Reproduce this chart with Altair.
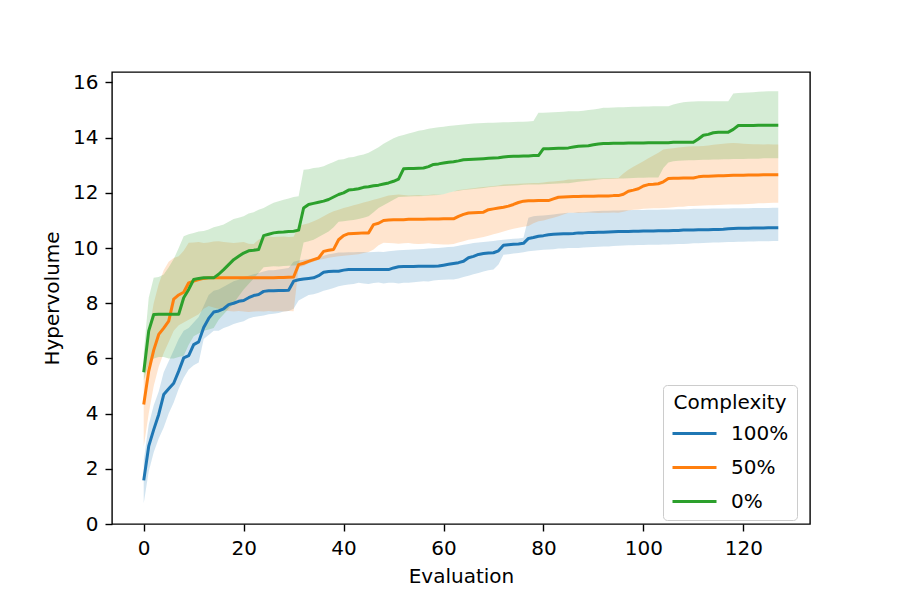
import altair as alt
import pandas as pd

evaluations = list(range(128))
groups = ["100%", "50%", "0%"]
colors = ["#1f77b4", "#ff7f0e", "#2ca02c"]

blue_mean = [
    1.58, 2.82, 3.42, 3.97, 4.69, 4.90, 5.10, 5.54, 6.02, 6.10,
    6.50, 6.60, 7.12, 7.45, 7.68, 7.72, 7.80, 7.95, 8.00, 8.07,
    8.10, 8.20, 8.28, 8.32, 8.43, 8.45, 8.45, 8.46, 8.46, 8.47,
    8.80, 8.85, 8.88, 8.90, 8.92, 9.00, 9.12, 9.15, 9.16, 9.16,
    9.20, 9.22, 9.22, 9.22, 9.22, 9.22, 9.22, 9.22, 9.22, 9.22,
    9.28, 9.32, 9.33, 9.33, 9.33, 9.34, 9.34, 9.34, 9.34, 9.35,
    9.38, 9.41, 9.44, 9.47, 9.52, 9.65, 9.70, 9.77, 9.80, 9.82,
    9.83, 9.90, 10.10, 10.12, 10.14, 10.15, 10.17, 10.35, 10.38, 10.43,
    10.45, 10.48, 10.50, 10.51, 10.52, 10.52, 10.53, 10.55, 10.55, 10.56,
    10.56, 10.57, 10.57, 10.58, 10.59, 10.60, 10.60, 10.60, 10.61, 10.61,
    10.62, 10.62, 10.62, 10.63, 10.63, 10.63, 10.64, 10.64, 10.65, 10.65,
    10.65, 10.66, 10.66, 10.66, 10.67, 10.67, 10.68, 10.70, 10.71, 10.72,
    10.72, 10.72, 10.73, 10.73, 10.73, 10.74, 10.74, 10.74]
blue_lo = [
    0.75, 1.90, 2.60, 3.10, 3.50, 4.00, 4.40, 4.90, 5.30, 5.60,
    5.75, 5.85, 6.70, 6.85, 7.00, 7.00, 7.10, 7.17, 7.25, 7.30,
    7.35, 7.45, 7.50, 7.53, 7.56, 7.60, 7.62, 7.65, 7.70, 7.72,
    7.80, 8.10, 8.20, 8.30, 8.33, 8.38, 8.45, 8.50, 8.55, 8.62,
    8.65, 8.68, 8.70, 8.74, 8.72, 8.70, 8.73, 8.75, 8.72, 8.74,
    8.74, 8.72, 8.74, 8.74, 8.76, 8.78, 8.80, 8.79, 8.82, 8.84,
    8.85, 8.86, 8.86, 8.90, 8.95, 9.00, 9.05, 9.10, 9.15, 9.20,
    9.22, 9.40, 9.76, 9.78, 9.80, 9.82, 9.85, 9.88, 9.90, 9.92,
    9.94, 9.95, 9.96, 9.98, 9.98, 10.00, 10.00, 10.00, 10.02, 10.03,
    10.04, 10.05, 10.06, 10.06, 10.07, 10.08, 10.09, 10.10, 10.10, 10.11,
    10.11, 10.12, 10.12, 10.12, 10.13, 10.13, 10.14, 10.15, 10.15, 10.16,
    10.17, 10.17, 10.18, 10.19, 10.20, 10.20, 10.21, 10.22, 10.22, 10.23,
    10.23, 10.24, 10.24, 10.25, 10.25, 10.25, 10.26, 10.26]
blue_hi = [
    2.30, 3.60, 4.30, 4.80, 5.50, 5.90, 6.30, 6.70, 7.00, 7.10,
    7.30, 7.50, 7.90, 8.30, 8.45, 8.50, 8.60, 8.70, 8.80, 8.85,
    8.95, 9.00, 9.05, 9.10, 9.15, 9.20, 9.20, 9.22, 9.25, 9.28,
    9.50, 9.55, 9.58, 9.60, 9.62, 9.65, 9.72, 9.78, 9.80, 9.84,
    9.84, 9.85, 9.85, 9.86, 9.86, 9.85, 9.86, 9.87, 9.86, 9.88,
    9.90, 9.92, 9.93, 9.94, 9.95, 9.96, 9.97, 9.98, 9.99, 10.00,
    10.02, 10.04, 10.05, 10.08, 10.12, 10.15, 10.18, 10.20, 10.22, 10.24,
    10.26, 10.28, 10.30, 10.32, 10.34, 10.35, 10.37, 11.10, 11.15, 11.17,
    11.18, 11.20, 11.22, 11.24, 11.26, 11.28, 11.28, 11.30, 11.30, 11.32,
    11.33, 11.34, 11.35, 11.35, 11.36, 11.36, 11.37, 11.37, 11.38, 11.38,
    11.38, 11.39, 11.39, 11.39, 11.40, 11.40, 11.40, 11.41, 11.41, 11.41,
    11.42, 11.42, 11.42, 11.42, 11.43, 11.43, 11.43, 11.43, 11.44, 11.44,
    11.44, 11.44, 11.45, 11.45, 11.45, 11.45, 11.46, 11.46]

orange_mean = [
    4.33, 5.54, 6.30, 6.87, 7.10, 7.35, 8.15, 8.30, 8.40, 8.74,
    8.80, 8.86, 8.90, 8.92, 8.92, 8.92, 8.92, 8.92, 8.92, 8.92,
    8.92, 8.92, 8.92, 8.92, 8.92, 8.92, 8.92, 8.93, 8.93, 8.94,
    8.95, 9.40, 9.45, 9.52, 9.58, 9.64, 9.88, 9.92, 9.95, 10.30,
    10.45, 10.52, 10.53, 10.54, 10.55, 10.55, 10.85, 10.90, 11.00, 11.02,
    11.03, 11.03, 11.03, 11.04, 11.04, 11.04, 11.04, 11.05, 11.05, 11.05,
    11.06, 11.06, 11.06, 11.15, 11.22, 11.27, 11.28, 11.29, 11.30, 11.39,
    11.42, 11.45, 11.48, 11.52, 11.58, 11.65, 11.70, 11.71, 11.71, 11.72,
    11.72, 11.72, 11.78, 11.84, 11.85, 11.86, 11.87, 11.87, 11.88, 11.88,
    11.88, 11.89, 11.89, 11.89, 11.90, 11.90, 11.95, 12.06, 12.10, 12.15,
    12.25, 12.30, 12.31, 12.33, 12.40, 12.52, 12.53, 12.53, 12.54, 12.54,
    12.54, 12.58, 12.60, 12.60, 12.61, 12.62, 12.62, 12.63, 12.64, 12.64,
    12.64, 12.65, 12.65, 12.65, 12.66, 12.66, 12.66, 12.66]
orange_lo = [
    2.80, 4.00, 5.00, 5.70, 6.20, 6.60, 7.00, 7.20, 7.30, 7.40,
    7.50, 7.60, 7.80, 7.90, 7.85, 7.80, 7.75, 7.72, 7.70, 7.72,
    7.70, 7.68, 7.70, 7.71, 7.70, 7.72, 7.70, 7.71, 7.70, 7.72,
    7.71, 9.30, 9.35, 9.45, 9.50, 9.58, 9.60, 9.65, 9.68, 9.70,
    9.72, 9.74, 9.76, 9.78, 9.82, 9.86, 9.95, 10.10, 10.19, 10.18,
    10.17, 10.16, 10.17, 10.18, 10.16, 10.15, 10.16, 10.17, 10.15, 10.14,
    10.13, 10.13, 10.15, 10.20, 10.25, 10.30, 10.33, 10.36, 10.40, 10.45,
    10.50, 10.55, 10.60, 10.65, 10.70, 10.74, 10.77, 10.80, 10.90, 10.97,
    11.00, 11.05, 11.10, 11.15, 11.22, 11.28, 11.28, 11.27, 11.28, 11.29,
    11.28, 11.27, 11.28, 11.28, 11.29, 11.28, 11.32, 11.36, 11.39, 11.40,
    11.42, 11.43, 11.44, 11.44, 11.45, 11.46, 11.48, 11.50, 11.50, 11.52,
    11.52, 11.53, 11.54, 11.55, 11.55, 11.56, 11.57, 11.58, 11.58, 11.58,
    11.59, 11.60, 11.61, 11.62, 11.62, 11.63, 11.64, 11.64]
orange_hi = [
    5.20, 7.00, 8.00, 8.70, 9.20, 9.50, 9.64, 9.70, 9.90, 10.19,
    10.20, 10.22, 10.18, 10.20, 10.24, 10.25, 10.22, 10.20, 10.18, 10.20,
    10.22, 10.16, 10.15, 10.30, 10.40, 10.42, 10.40, 10.41, 10.42, 10.40,
    10.41, 10.79, 10.85, 10.90, 10.97, 11.05, 11.15, 11.25, 11.33, 11.39,
    11.45, 11.50, 11.55, 11.60, 11.65, 11.70, 11.75, 11.80, 11.85, 11.90,
    11.92, 11.94, 11.92, 11.90, 11.91, 11.92, 11.90, 11.92, 11.94, 11.93,
    11.95, 12.00, 12.05, 12.10, 12.12, 12.15, 12.17, 12.19, 12.21, 12.23,
    12.25, 12.27, 12.30, 12.31, 12.32, 12.33, 12.34, 12.35, 12.36, 12.36,
    12.38, 12.40, 12.41, 12.43, 12.45, 12.48, 12.48, 12.50, 12.50, 12.51,
    12.52, 12.52, 12.53, 12.53, 12.54, 12.54, 12.70, 12.84, 12.95, 13.05,
    13.15, 13.25, 13.35, 13.45, 13.57, 13.60, 13.62, 13.64, 13.66, 13.68,
    13.69, 13.69, 13.70, 13.72, 13.74, 13.76, 13.78, 13.80, 13.81, 13.80,
    13.78, 13.77, 13.76, 13.76, 13.75, 13.76, 13.75, 13.75]

green_mean = [
    5.50, 7.00, 7.59, 7.60, 7.60, 7.60, 7.60, 7.60, 8.20, 8.50,
    8.86, 8.90, 8.92, 8.92, 8.92, 9.05, 9.22, 9.40, 9.58, 9.70,
    9.82, 9.90, 9.92, 9.95, 10.45, 10.50, 10.55, 10.57, 10.58, 10.60,
    10.61, 10.65, 11.45, 11.58, 11.62, 11.66, 11.70, 11.76, 11.85, 11.94,
    12.00, 12.10, 12.12, 12.15, 12.20, 12.22, 12.26, 12.28, 12.32, 12.36,
    12.42, 12.50, 12.87, 12.88, 12.88, 12.89, 12.90, 12.95, 13.03, 13.05,
    13.08, 13.11, 13.13, 13.16, 13.20, 13.21, 13.22, 13.23, 13.24, 13.25,
    13.26, 13.27, 13.30, 13.32, 13.33, 13.33, 13.34, 13.34, 13.35, 13.35,
    13.60, 13.60, 13.61, 13.62, 13.62, 13.63, 13.66, 13.69, 13.70, 13.71,
    13.74, 13.77, 13.79, 13.79, 13.80, 13.80, 13.80, 13.81, 13.81, 13.81,
    13.81, 13.82, 13.82, 13.82, 13.82, 13.82, 13.83, 13.83, 13.83, 13.83,
    13.83, 13.95, 14.09, 14.12, 14.18, 14.20, 14.20, 14.20, 14.30, 14.44,
    14.44, 14.44, 14.44, 14.45, 14.45, 14.45, 14.45, 14.45]
green_lo = [
    5.20, 5.80, 6.00, 6.05, 6.05, 6.00, 6.00, 6.05, 6.10, 6.50,
    6.80, 6.90, 7.00, 7.05, 7.10, 7.40, 7.60, 7.80, 8.00, 8.25,
    8.50, 8.70, 8.90, 9.10, 9.30, 9.32, 9.34, 9.33, 9.35, 9.36,
    9.37, 9.38, 10.20, 10.25, 10.30, 10.40, 10.50, 10.60, 10.75, 10.95,
    10.97, 11.00, 11.02, 11.05, 11.10, 11.15, 11.30, 11.45, 11.55, 11.65,
    11.75, 11.85, 11.86, 11.87, 11.88, 11.88, 11.89, 11.90, 11.91, 11.92,
    11.95, 12.00, 12.05, 12.08, 12.10, 12.12, 12.14, 12.16, 12.18, 12.20,
    12.22, 12.24, 12.25, 12.26, 12.27, 12.28, 12.29, 12.30, 12.30, 12.30,
    12.31, 12.32, 12.33, 12.34, 12.35, 12.35, 12.38, 12.40, 12.42, 12.44,
    12.46, 12.48, 12.50, 12.50, 12.51, 12.52, 12.52, 12.53, 12.54, 12.55,
    12.55, 12.56, 12.56, 12.56, 12.90, 13.10, 13.15, 13.16, 13.17, 13.18,
    13.18, 13.19, 13.20, 13.20, 13.21, 13.21, 13.22, 13.22, 13.23, 13.23,
    13.23, 13.24, 13.24, 13.24, 13.25, 13.25, 13.25, 13.25]
green_hi = [
    6.20, 8.20, 8.92, 8.95, 9.04, 9.30, 9.60, 10.00, 10.43, 10.50,
    10.55, 10.60, 10.62, 10.67, 10.75, 10.80, 10.85, 10.95, 11.05, 11.10,
    11.15, 11.25, 11.30, 11.39, 11.45, 11.55, 11.64, 11.70, 11.75, 11.80,
    11.85, 11.88, 12.84, 12.86, 12.90, 12.92, 12.96, 13.05, 13.12, 13.20,
    13.22, 13.28, 13.30, 13.35, 13.39, 13.45, 13.55, 13.65, 13.78, 13.88,
    13.98, 14.05, 14.10, 14.15, 14.20, 14.25, 14.28, 14.32, 14.35, 14.38,
    14.40, 14.42, 14.44, 14.46, 14.48, 14.50, 14.51, 14.52, 14.53, 14.54,
    14.54, 14.55, 14.56, 14.56, 14.57, 14.58, 14.58, 14.59, 14.60, 14.90,
    14.90, 14.91, 14.92, 14.93, 14.94, 14.96, 14.96, 14.96, 14.98, 15.00,
    15.02, 15.05, 15.08, 15.08, 15.09, 15.10, 15.10, 15.11, 15.12, 15.12,
    15.13, 15.13, 15.14, 15.14, 15.14, 15.14, 15.20, 15.25, 15.28, 15.30,
    15.31, 15.32, 15.32, 15.32, 15.32, 15.32, 15.32, 15.32, 15.60, 15.62,
    15.63, 15.64, 15.65, 15.66, 15.67, 15.68, 15.68, 15.68]

x_ticks = [0, 20, 40, 60, 80, 100, 120]
y_ticks = [0, 2, 4, 6, 8, 10, 12, 14, 16]

series = [
    ("100%", blue_mean, blue_lo, blue_hi),
    ("50%", orange_mean, orange_lo, orange_hi),
    ("0%", green_mean, green_lo, green_hi),
]
rows = []
for name, m, lo, hi in series:
    for i, ev in enumerate(evaluations):
        rows.append({"Evaluation": ev, "Complexity": name,
                     "mean": m[i], "lo": lo[i], "hi": hi[i]})
df = pd.DataFrame(rows)

FONT = "DejaVu Sans"
FS = 20
W, H = 698, 452
LW = 3.0

xscale = alt.Scale(domain=[-6.35, 133.35], nice=False, zero=False)
yscale = alt.Scale(domain=[0, 16.38], nice=False, zero=False)
xaxis = alt.Axis(values=x_ticks, title="Evaluation", grid=False,
                 titleX=W / 2, titleY=52, titleBaseline="middle")
yaxis = alt.Axis(values=y_ticks, title="Hypervolume", grid=False,
                 titleX=-60, titleY=H / 2, titleAngle=-90,
                 titleBaseline="middle", titleAlign="center")
cscale = alt.Scale(domain=groups, range=colors)

legend = alt.Legend(
    title="Complexity", orient="none", legendX=551, legendY=313,
    direction="vertical", symbolType="stroke", symbolSize=1936,
    symbolStrokeWidth=LW, symbolOpacity=1, labelFontSize=FS,
    titleFontSize=FS, titleFontWeight="normal", titleAnchor="middle",
    labelFont=FONT, titleFont=FONT, labelColor="black",
    titleColor="black", padding=8, strokeColor="#cccccc",
    fillColor="white", cornerRadius=4, rowPadding=-14,
    titlePadding=-3, labelOffset=13,
)

bands = alt.Chart(df).mark_area(opacity=0.2, interpolate="linear").encode(
    x=alt.X("Evaluation:Q", scale=xscale, axis=xaxis),
    y=alt.Y("lo:Q", scale=yscale, axis=yaxis),
    y2="hi:Q",
    color=alt.Color("Complexity:N", scale=cscale, legend=legend),
    detail="Complexity:N",
)

lines = alt.Chart(df).mark_line(strokeWidth=LW, strokeJoin="round").encode(
    x=alt.X("Evaluation:Q", scale=xscale, axis=xaxis),
    y=alt.Y("mean:Q", scale=yscale, axis=yaxis),
    color=alt.Color("Complexity:N", scale=cscale, legend=legend),
    strokeWidth=alt.value(LW),
)

chart = alt.layer(bands, lines).properties(
    width=W, height=H,
    autosize="none",
    padding={"left": 112, "top": 72, "right": 90, "bottom": 76},
).configure(
    background="white"
).configure_view(
    stroke="black", strokeWidth=1.4
).configure_axis(
    domain=False, tickColor="black", tickSize=7, tickWidth=1.4,
    labelFont=FONT, labelFontSize=FS, labelColor="black", labelPadding=7,
    titleFont=FONT, titleFontSize=FS, titleFontWeight="normal",
    titleColor="black",
)

chart.save("out.html", embed_options={"renderer": "svg", "actions": False})
